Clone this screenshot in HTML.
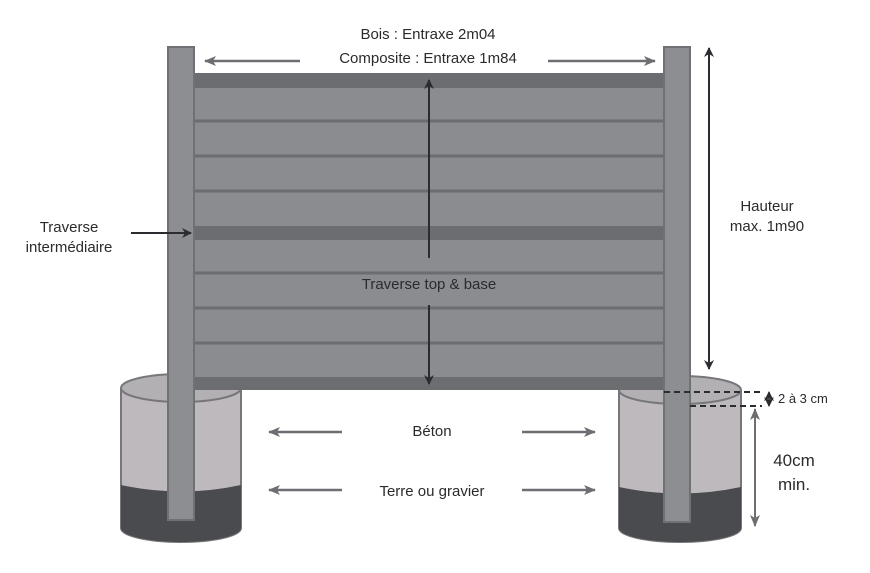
<!DOCTYPE html>
<html><head><meta charset="utf-8"><style>
html,body{margin:0;padding:0;background:#fff;}
svg{display:block;}
text{font-family:"Liberation Sans",sans-serif;fill:#2b2b2e;}
</style></head><body>
<svg width="870" height="573" viewBox="0 0 870 573" xmlns="http://www.w3.org/2000/svg">
<defs>
<marker id="ag" markerWidth="12" markerHeight="10" refX="11" refY="5" orient="auto" markerUnits="userSpaceOnUse"><path d="M0,0 L12,5 L0,10 L3,5 Z" fill="#6e6e72"/></marker>
<marker id="ad" markerWidth="10" markerHeight="10" refX="9" refY="5" orient="auto" markerUnits="userSpaceOnUse"><path d="M0,0 L10,5 L0,10 L3,5 Z" fill="#2b2b30"/></marker>
</defs>
<g stroke="#77777b" stroke-width="2">
<path d="M121,388 L121,528 A60,14 0 0 0 241,528 L241,388" fill="#bdb9bc"/>
<path d="M121,485 Q181,498 241,485 L241,528 A60,14 0 0 1 121,528 Z" fill="#4a4b4f" stroke="none"/>
<ellipse cx="181" cy="388" rx="60" ry="14" fill="#b2b0b3"/>
<path d="M619,390 L619,528 A61,14 0 0 0 741,528 L741,390" fill="#bdb9bc"/>
<path d="M619,487 Q680,500 741,487 L741,528 A61,14 0 0 1 619,528 Z" fill="#4a4b4f" stroke="none"/>
<ellipse cx="680" cy="390" rx="61" ry="14" fill="#b2b0b3"/>
</g>
<rect x="193" y="73" width="471" height="317" fill="#8b8c90"/>
<rect x="193" y="73" width="471" height="15" fill="#6c6d71"/>
<rect x="193" y="226" width="471" height="14" fill="#6c6d71"/>
<rect x="193" y="377" width="471" height="13" fill="#6c6d71"/>
<g stroke="#6c6d71" stroke-width="3">
<line x1="193" y1="121" x2="664" y2="121"/><line x1="193" y1="156" x2="664" y2="156"/><line x1="193" y1="191" x2="664" y2="191"/>
<line x1="193" y1="273" x2="664" y2="273"/><line x1="193" y1="308" x2="664" y2="308"/><line x1="193" y1="343" x2="664" y2="343"/>
</g>
<rect x="168" y="47" width="26" height="473" fill="#8d8e92" stroke="#707175" stroke-width="2"/>
<rect x="664" y="47" width="26" height="475" fill="#8d8e92" stroke="#707175" stroke-width="2"/>
<text x="428" y="39" font-size="15" text-anchor="middle">Bois : Entraxe 2m04</text>
<text x="428" y="63" font-size="15" text-anchor="middle">Composite : Entraxe 1m84</text>
<line x1="300" y1="61" x2="205" y2="61" stroke="#6e6e72" stroke-width="2.5" marker-end="url(#ag)"/>
<line x1="548" y1="61" x2="655" y2="61" stroke="#6e6e72" stroke-width="2.5" marker-end="url(#ag)"/>
<line x1="429" y1="258" x2="429" y2="80" stroke="#2b2b30" stroke-width="2" marker-end="url(#ad)"/>
<line x1="429" y1="305" x2="429" y2="384" stroke="#2b2b30" stroke-width="2" marker-end="url(#ad)"/>
<text x="429" y="289" font-size="15" text-anchor="middle">Traverse top &amp; base</text>
<text x="69" y="232" font-size="15" text-anchor="middle">Traverse</text>
<text x="69" y="252" font-size="15" text-anchor="middle">intermédiaire</text>
<line x1="131" y1="233" x2="191" y2="233" stroke="#2b2b30" stroke-width="2" marker-end="url(#ad)"/>
<line x1="709" y1="200" x2="709" y2="48" stroke="#2b2b30" stroke-width="2" marker-end="url(#ad)"/>
<line x1="709" y1="200" x2="709" y2="369" stroke="#2b2b30" stroke-width="2" marker-end="url(#ad)"/>
<text x="767" y="211" font-size="15" text-anchor="middle">Hauteur</text>
<text x="767" y="231" font-size="15" text-anchor="middle">max. 1m90</text>
<g stroke="#2b2b30" stroke-width="2" stroke-dasharray="6,4" fill="none">
<line x1="664" y1="392" x2="762" y2="392"/>
<line x1="690" y1="406" x2="762" y2="406"/>
</g>
<line x1="769" y1="399" x2="769" y2="392" stroke="#2b2b30" stroke-width="1.5" marker-end="url(#ad)"/>
<line x1="769" y1="399" x2="769" y2="406" stroke="#2b2b30" stroke-width="1.5" marker-end="url(#ad)"/>
<text x="778" y="403" font-size="13">2 à 3 cm</text>
<line x1="755" y1="460" x2="755" y2="409" stroke="#6e6e72" stroke-width="2" marker-end="url(#ag)"/>
<line x1="755" y1="460" x2="755" y2="526" stroke="#6e6e72" stroke-width="2" marker-end="url(#ag)"/>
<text x="794" y="466" font-size="17" text-anchor="middle">40cm</text>
<text x="794" y="490" font-size="17" text-anchor="middle">min.</text>
<text x="432" y="436" font-size="15" text-anchor="middle">Béton</text>
<text x="432" y="496" font-size="15" text-anchor="middle">Terre ou gravier</text>
<g stroke="#6e6e72" stroke-width="2.5">
<line x1="342" y1="432" x2="269" y2="432" marker-end="url(#ag)"/>
<line x1="522" y1="432" x2="595" y2="432" marker-end="url(#ag)"/>
<line x1="342" y1="490" x2="269" y2="490" marker-end="url(#ag)"/>
<line x1="522" y1="490" x2="595" y2="490" marker-end="url(#ag)"/>
</g>
</svg>
</body></html>
